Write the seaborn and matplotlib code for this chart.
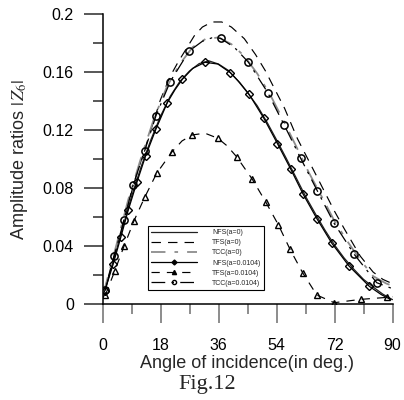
import matplotlib
matplotlib.use("Agg")
import matplotlib.pyplot as plt
import seaborn as sns
from matplotlib.lines import Line2D
from matplotlib.ticker import MultipleLocator, FixedLocator, FixedFormatter

# ---- axis ticks -------------------------------------------------------------
x_ticks = [0, 18, 36, 54, 72, 90]
x_tick_labels = ["0", "18", "36", "54", "72", "90"]
y_ticks = [0.0, 0.04, 0.08, 0.12, 0.16, 0.2]
y_tick_labels = ["0", "0.04", "0.08", "0.12", "0.16", "0.2"]

# ---- a = 0 curves -----------------------------------------------------------
nfs0_angle = [0.5, 3, 6, 9, 12, 15, 18, 21, 24, 27, 30, 33, 36, 39, 42, 45, 48,
              51, 54, 57, 60, 63, 66, 69, 72, 75, 78, 81, 84, 87, 90]
nfs0_amp = [0.008, 0.027, 0.0506, 0.074, 0.0948, 0.1132, 0.1295, 0.1432, 0.1535,
            0.1607, 0.1658, 0.1677, 0.1655, 0.1612, 0.1540, 0.1458, 0.1368,
            0.1256, 0.1133, 0.1006, 0.0875, 0.0743, 0.0625, 0.0511, 0.0407,
            0.0317, 0.0240, 0.0170, 0.0117, 0.0068, 0.003]

tfs0_angle = [0.5, 5, 10, 14.3, 18, 21, 23.5, 26, 28.5, 31, 34, 37, 40, 44, 47.5,
              50.5, 53.5, 56.5, 60.5, 63.5, 66.5, 69, 72, 75, 80, 84, 87, 90]
tfs0_amp = [0.008, 0.045, 0.085, 0.115, 0.141, 0.157, 0.167, 0.176, 0.185, 0.191,
            0.1945, 0.1945, 0.191, 0.183, 0.172, 0.161, 0.148, 0.135, 0.114,
            0.101, 0.088, 0.077, 0.064, 0.052, 0.033, 0.022, 0.017, 0.014]

tcc0_angle = [0.5, 4, 8, 12, 16, 20, 24, 28, 32, 36, 40, 44, 48, 52, 56, 60, 64,
              68, 72, 76, 80, 84, 88, 90]
tcc0_amp = [0.009, 0.038, 0.072, 0.101, 0.128, 0.150, 0.1655, 0.1772, 0.1828,
            0.1838, 0.1792, 0.171, 0.159, 0.1445, 0.1272, 0.1092, 0.0908, 0.0742,
            0.0572, 0.0432, 0.0304, 0.0192, 0.0142, 0.0125]

# ---- a = 0.0104 curves (line points) ----------------------------------------
nfs1_angle = [0.7, 3.3, 5.7, 8.0, 10.7, 13.4, 16.6, 20.1, 22.5, 24.8, 28.0, 31.8,
              35.8, 39.7, 42.6, 45.5, 50.1, 54.3, 58.4, 62.3, 66.6, 71.2, 76.5,
              82.8, 86.5, 89.5]
nfs1_amp = [0.009, 0.0274, 0.0462, 0.0648, 0.0841, 0.1023, 0.1207, 0.1388, 0.1478,
            0.155, 0.1625, 0.1667, 0.1655, 0.1595, 0.1527, 0.1446, 0.128, 0.1106,
            0.0931, 0.0756, 0.0586, 0.0418, 0.0262, 0.0122, 0.0065, 0.003]

tfs1_angle = [0.9, 3.8, 6.7, 9.8, 13.1, 16.8, 21.6, 24.7, 27.9, 31.8, 35.8, 38.7,
              41.6, 46.5, 50.6, 54.6, 58.2, 62.1, 66.5, 71.9, 80.2, 88.4, 90]
tfs1_amp = [0.0062, 0.0228, 0.040, 0.0575, 0.0736, 0.0901, 0.105, 0.1125, 0.1166,
            0.1178, 0.1143, 0.109, 0.1016, 0.086, 0.0706, 0.0545, 0.0377, 0.0216,
            0.0062, 0.0009, 0.0032, 0.0046, 0.005]

tcc1_angle = [0.9, 3.6, 6.7, 9.5, 13.1, 16.6, 21.0, 26.9, 31.0, 34.0, 36.7, 41.0,
              45.3, 51.3, 56.4, 61.5, 66.7, 71.9, 78.1, 85.1, 89.5]
tcc1_amp = [0.0097, 0.033, 0.058, 0.082, 0.1057, 0.1299, 0.1533, 0.1745, 0.1812,
            0.1836, 0.1832, 0.1768, 0.1667, 0.1457, 0.1234, 0.1005, 0.0779,
            0.0556, 0.0343, 0.0147, 0.011]

# ---- a = 0.0104 symbol positions --------------------------------------------
nfs1_mark_angle = [0.7, 3.3, 5.7, 8.0, 10.7, 13.4, 16.6, 20.1, 24.8, 31.8, 39.7,
                   45.5, 50.1, 54.3, 58.4, 62.3, 66.6, 71.2, 76.5, 82.8]
nfs1_mark_amp = [0.009, 0.0274, 0.0462, 0.0648, 0.0841, 0.1023, 0.1207, 0.1388,
                 0.155, 0.1667, 0.1595, 0.1446, 0.128, 0.1106, 0.0931, 0.0756,
                 0.0586, 0.0418, 0.0262, 0.0122]

tfs1_mark_angle = [0.9, 3.8, 6.7, 9.8, 13.1, 16.8, 21.6, 27.9, 35.8, 41.6, 46.5,
                   50.6, 54.6, 58.2, 62.1, 66.5, 71.9, 80.2, 88.4]
tfs1_mark_amp = [0.0062, 0.0228, 0.040, 0.0575, 0.0736, 0.0901, 0.105, 0.1166,
                 0.1143, 0.1016, 0.086, 0.0706, 0.0545, 0.0377, 0.0216, 0.0062,
                 0.0009, 0.0032, 0.0046]

tcc1_mark_angle = [0.9, 3.6, 6.7, 9.5, 13.1, 16.6, 21.0, 26.9, 36.7, 45.3, 51.3,
                   56.4, 61.5, 66.7, 71.9, 78.1, 85.1]
tcc1_mark_amp = [0.0097, 0.033, 0.058, 0.082, 0.1057, 0.1299, 0.1533, 0.1745,
                 0.1832, 0.1667, 0.1457, 0.1234, 0.1005, 0.0779, 0.0556, 0.0343,
                 0.0147]

legend_labels = ["NFS(a=0)", "TFS(a=0)", "TCC(a=0)",
                 "NFS(a=0.0104)", "TFS(a=0.0104)", "TCC(a=0.0104)"]

# ---- styling ----------------------------------------------------------------
sns.set_theme(style="ticks")
plt.rcParams["font.family"] = ["Liberation Sans", "DejaVu Sans"]
plt.rcParams["mathtext.fontset"] = "stix"

GRAY = "#8c8c8c"
styles = {
    "nfs0": dict(color="#202020", lw=0.9, linestyle="-"),
    "tfs0": dict(color="black", lw=0.85, linestyle=(0, (8, 6))),
    "tcc0": dict(color=GRAY, lw=1.3, linestyle=(3, (11, 5, 2, 5))),
    "nfs1": dict(color="black", lw=0.9, linestyle="-"),
    "tfs1": dict(color="black", lw=0.85, linestyle=(0, (7, 6))),
    "tcc1": dict(color="black", lw=0.9, linestyle=(0, (11, 5, 2, 5))),
}
marks = {
    "nfs1": dict(marker="D", markersize=3.8, mfc="none", mec="black", mew=1.0),
    "tfs1": dict(marker="^", markersize=4.8, mfc="none", mec="black", mew=1.0),
    "tcc1": dict(marker="o", markersize=5.2, mfc="none", mec="black", mew=1.1),
}

fig = plt.figure(figsize=(4.04, 4.00), dpi=100)
ax = fig.add_axes([102.5 / 404, 1 - 304 / 400, 290 / 404, 290 / 400])

curves = [
    ("nfs0", nfs0_angle, nfs0_amp),
    ("tfs0", tfs0_angle, tfs0_amp),
    ("tcc0", tcc0_angle, tcc0_amp),
    ("nfs1", nfs1_angle, nfs1_amp),
    ("tfs1", tfs1_angle, tfs1_amp),
    ("tcc1", tcc1_angle, tcc1_amp),
]
for key, xs, ys in curves:
    sns.lineplot(x=xs, y=ys, ax=ax, sort=False, errorbar=None, legend=False,
                 **styles[key])

symbols = [
    ("nfs1", nfs1_mark_angle, nfs1_mark_amp),
    ("tfs1", tfs1_mark_angle, tfs1_mark_amp),
    ("tcc1", tcc1_mark_angle, tcc1_mark_amp),
]
for key, xs, ys in symbols:
    sns.lineplot(x=xs, y=ys, ax=ax, sort=False, errorbar=None, legend=False,
                 linestyle="none", color="black", **marks[key])

# ---- axes -------------------------------------------------------------------
ax.set_xlim(0, 90)
ax.set_ylim(0, 0.2)
ax.xaxis.set_major_locator(FixedLocator(x_ticks))
ax.xaxis.set_major_formatter(FixedFormatter(x_tick_labels))
ax.yaxis.set_major_locator(FixedLocator(y_ticks))
ax.yaxis.set_major_formatter(FixedFormatter(y_tick_labels))
ax.xaxis.set_minor_locator(MultipleLocator(9))
ax.yaxis.set_minor_locator(MultipleLocator(0.02))

for side in ("top", "right"):
    ax.spines[side].set_visible(False)
for side in ("left", "bottom"):
    ax.spines[side].set_color("black")
    ax.spines[side].set_linewidth(1.1)

ax.tick_params(axis="both", which="major", direction="out", length=13.7,
               width=1.1, labelsize=11.5, labelcolor="black")
ax.tick_params(axis="both", which="minor", direction="out", length=7.5,
               width=1.1)
ax.tick_params(axis="x", which="both", color="#6e6e6e")
ax.tick_params(axis="y", which="both", color="#2a2a2a")
ax.tick_params(axis="x", which="major", pad=10.5)
ax.tick_params(axis="y", which="major", pad=7)

ax.set_xlabel("Angle of incidence(in deg.)", fontsize=13, labelpad=1.5)
ax.set_ylabel(r"Amplitude ratios $|\,Z_{6}|$", fontsize=13, labelpad=9)

# ---- legend -----------------------------------------------------------------
handles = [
    Line2D([], [], **styles["nfs0"]),
    Line2D([], [], **styles["tfs0"]),
    Line2D([], [], **styles["tcc0"]),
    Line2D([], [], marker="D", markersize=2.5, mfc="black", mec="black",
           **styles["nfs1"]),
    Line2D([], [], marker="^", markersize=3.0, mfc="black", mec="black",
           **styles["tfs1"]),
    Line2D([], [], marker="o", markersize=3.0, mfc="none", mec="black", mew=1.0,
           **styles["tcc1"]),
]
leg = ax.legend(handles, legend_labels, loc="lower left",
                bbox_to_anchor=(148 / 404, 1 - 290 / 400),
                bbox_transform=fig.transFigure, fontsize=5, frameon=True,
                fancybox=False, edgecolor="black", framealpha=1,
                handlelength=6.6, handletextpad=2.2, labelspacing=0.45,
                borderpad=0.45, borderaxespad=0, numpoints=1)
leg.get_frame().set_linewidth(0.8)

fig.text(207 / 404, 1 - 384 / 400, "Fig.12", family="Liberation Serif",
         fontsize=16, ha="center", va="center")

fig.savefig("out.png", dpi=100)
